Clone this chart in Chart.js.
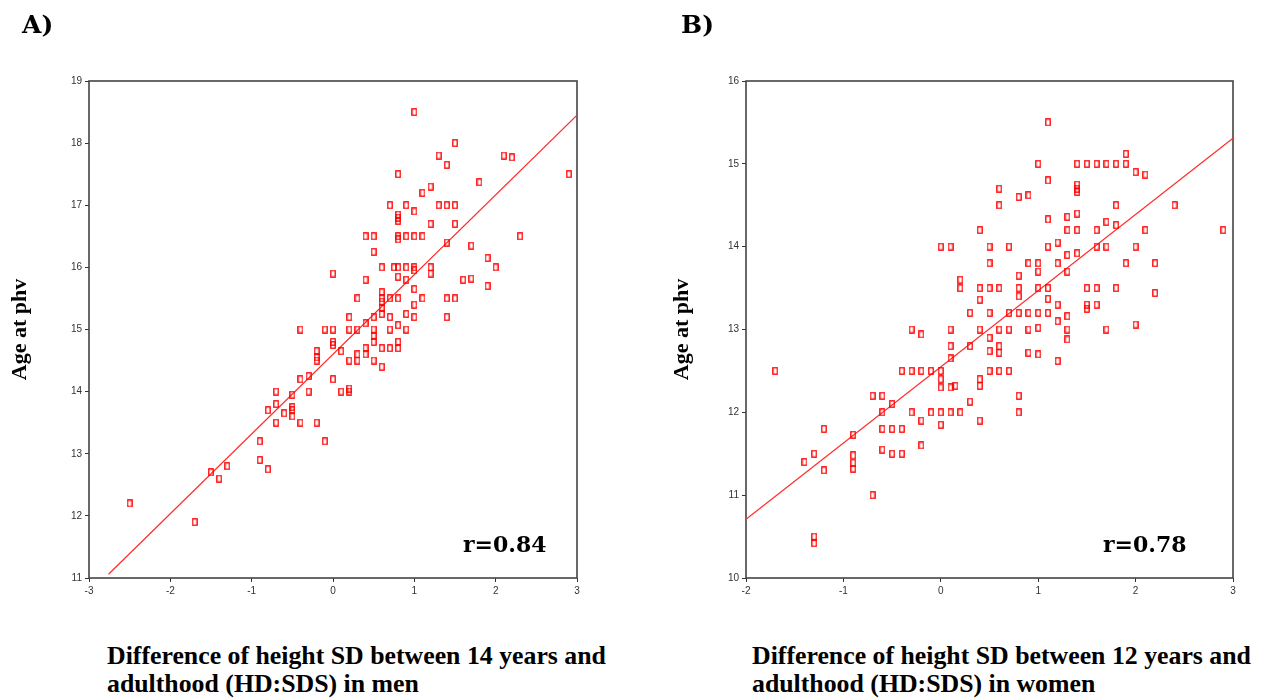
<!DOCTYPE html>
<html><head><meta charset="utf-8">
<script src="https://cdn.jsdelivr.net/npm/chart.js@4.4.0/dist/chart.umd.min.js"></script>
<style>
html,body{margin:0;padding:0;background:#fff;width:1265px;height:699px;overflow:hidden;position:relative}
canvas{position:absolute;top:0}
.lbl{position:absolute;font-family:"DejaVu Serif";font-weight:bold;color:#000;white-space:nowrap;line-height:1}
.xt{position:absolute;font-family:"Liberation Serif";font-weight:bold;font-size:25.8px;line-height:28px;color:#000;white-space:nowrap}
</style></head><body>
<canvas id="cA" width="600" height="620" style="left:0"></canvas>
<canvas id="cB" width="600" height="620" style="left:657px"></canvas>
<div class="lbl" style="left:22px;top:12px;font-size:25px">A)</div>
<div class="lbl" style="left:681px;top:12px;font-size:25px">B)</div>
<div class="lbl" style="left:463px;top:533px;font-size:22px">r=0.84</div>
<div class="lbl" style="left:1103px;top:533px;font-size:22px">r=0.78</div>
<div class="xt" style="left:107px;top:642px">Difference of height SD between 14 years and<br>adulthood (HD:SDS) in men</div>
<div class="xt" style="left:752px;top:642px">Difference of height SD between 12 years and<br>adulthood (HD:SDS) in women</div>
<script>
// Panel A (men)
const menX = [-2.5,-1.7,-1.5,-1.4,-1.3,
  -0.9,-0.9,-0.8,-0.8,-0.7,-0.7,-0.7,-0.6,
  -0.5,-0.5,-0.5,-0.5,-0.4,-0.4,-0.4,-0.3,-0.3,
  -0.2,-0.2,-0.2,-0.2,-0.1,-0.1,
  0,0,0,0,0, 0.1,0.1, 0.2,0.2,0.2,0.2,0.2, 0.3,0.3,0.3,0.3,
  0.4,0.4,0.4,0.4,0.4, 0.5,0.5,0.5,0.5,0.5,0.5,0.5,
  0.6,0.6,0.6,0.6,0.6,0.6,0.6,0.6, 0.7,0.7,0.7,0.7,0.7, 0.75,
  0.8,0.8,0.8,0.8,0.8,0.8,0.8,0.8,0.8,0.8,0.8,0.8,
  0.9,0.9,0.9,0.9,0.9,0.9, 1.0,1.0,1.0,1.0,1.0,1.0,1.0,1.0,
  1.1,1.1,1.1, 1.2,1.2,1.2,1.2, 1.3,1.3, 1.4,1.4,1.4,1.4,1.4,
  1.5,1.5,1.5,1.5, 1.6, 1.7,1.7, 1.8, 1.9,1.9, 2.0, 2.1, 2.2, 2.3, 2.9];
const menY = [12.2,11.9,12.7,12.6,12.8,
  13.2,12.9,13.7,12.75,14.0,13.8,13.5,13.65,
  13.95,13.75,13.7,13.6,15.0,14.2,13.5,14.25,14.0,
  14.65,14.55,14.5,13.5,15.0,13.2,
  15.9,15.0,14.8,14.75,14.2, 14.65,14.0, 15.2,15.0,14.5,14.05,14.0, 15.5,15.0,14.6,14.5,
  16.5,15.8,15.1,14.7,14.6, 16.5,16.25,15.2,15.0,14.9,14.8,14.5,
  16.0,15.6,15.5,15.45,15.35,15.25,14.7,14.4, 17.0,15.5,15.2,15.0,14.7, 16.0,
  17.5,16.85,16.8,16.75,16.5,16.45,16.0,15.85,15.5,15.07,14.8,14.7,
  17.0,16.5,16.0,15.8,15.25,15.0, 18.5,16.9,16.5,16.0,15.95,15.65,15.4,15.2,
  17.2,16.5,15.5, 17.3,16.7,16.0,15.9, 17.8,17.0, 17.65,17.0,16.4,15.5,15.2,
  18.0,17.0,16.7,15.5, 15.8, 16.35,15.82, 17.37, 16.15,15.7, 16.0, 17.8, 17.77, 16.5, 17.5];
const fitMenX = [-2.76, 3.0];
const fitMenY = [11.06, 18.45];
const menXTicks = [-3,-2,-1,0,1,2,3];
const menYTicks = [11,12,13,14,15,16,17,18,19];

// Panel B (women)
const womenX = [-1.7,-1.4,-1.3,-1.3,-1.3,-1.2,-1.2,
  -0.9,-0.9,-0.9,-0.9,-0.7,-0.7,-0.6,-0.6,-0.6,-0.6,
  -0.5,-0.5,-0.5,-0.4,-0.4,-0.4,-0.3,-0.3,-0.3,
  -0.2,-0.2,-0.2,-0.2,-0.1,-0.1,
  0,0,0,0,0,0, 0.1,0.1,0.1,0.1,0.1,0.1, 0.15,
  0.2,0.2,0.2, 0.3,0.3,0.3, 0.4,0.4,0.4,0.4,0.4,0.4,0.4,
  0.5,0.5,0.5,0.5,0.5,0.5,0.5, 0.6,0.6,0.6,0.6,0.6,0.6,0.6,
  0.7,0.7,0.7,0.7, 0.8,0.8,0.8,0.8,0.8,0.8,0.8,
  0.9,0.9,0.9,0.9,0.9, 1.0,1.0,1.0,1.0,1.0,1.0,1.0,
  1.1,1.1,1.1,1.1,1.1,1.1,1.1, 1.2,1.2,1.2,1.2,1.2,
  1.3,1.3,1.3,1.3,1.3,1.3,1.3, 1.4,1.4,1.4,1.4,1.4,1.4,1.4,
  1.5,1.5,1.5,1.5, 1.6,1.6,1.6,1.6,1.6, 1.7,1.7,1.7,1.7,
  1.8,1.8,1.8,1.8, 1.9,1.9,1.9, 2.0,2.0,2.0, 2.1,2.1, 2.2,2.2, 2.4, 2.9];
const womenY = [12.5,11.4,11.5,10.5,10.42,11.8,11.3,
  11.73,11.48,11.39,11.32,12.2,11.0,12.2,12.0,11.8,11.55,
  12.1,11.8,11.5,12.5,11.8,11.5,13.0,12.5,12.0,
  12.94,12.5,11.9,11.6,12.5,12.0,
  14.0,12.5,12.4,12.3,12.0,11.85, 14.0,13.0,12.8,12.65,12.3,12.0, 12.32,
  13.6,13.5,12.0, 13.2,12.8,12.13, 14.2,13.5,13.36,13.0,12.4,12.32,11.9,
  14.0,13.8,13.5,13.2,12.9,12.74,12.5, 14.7,14.5,13.5,13.0,12.8,12.72,12.5,
  14.0,13.2,13.0,12.5, 14.6,13.65,13.5,13.4,13.2,12.2,12.0,
  14.62,13.8,13.2,13.0,12.72, 15.0,13.8,13.7,13.5,13.2,13.02,12.7,
  15.5,14.8,14.33,14.0,13.5,13.37,13.2, 14.05,13.8,13.3,13.1,12.62,
  14.36,14.2,13.9,13.7,13.16,13.0,12.88, 15.0,14.75,14.7,14.66,14.4,14.2,13.92,
  15.0,13.5,13.3,13.25, 15.0,14.2,14.0,13.5,13.3, 15.0,14.3,14.0,13.0,
  15.0,14.5,14.26,13.5, 15.12,15.0,13.8, 14.9,14.0,13.06, 14.87,14.2, 13.8,13.44, 14.5, 14.2];
const fitWomenX = [-2.0, 3.0];
const fitWomenY = [10.71, 15.31];
const womenXTicks = [-2,-1,0,1,2,3];
const womenYTicks = [10,11,12,13,14,15,16];

function marker(){
  const c=document.createElement('canvas'); c.width=6; c.height=8;
  const g=c.getContext('2d'); g.strokeStyle='#ff0000'; g.lineWidth=1.3;
  g.strokeRect(0.8,0.8,4.4,6.4); return c;
}
const framePlugin={id:'frame',beforeDatasetsDraw(chart){
  const {ctx,chartArea:a}=chart; ctx.save(); ctx.strokeStyle='#444'; ctx.lineWidth=1.6;
  ctx.strokeRect(a.left,a.top,a.right-a.left,a.bottom-a.top); ctx.restore();}};

function build(id, xs, ys, fx, fy, xTicks, yTicks, titlePad, padRight){
  const pts = xs.map((x,i)=>({x:x, y:ys[i]}));
  const fit = fx.map((x,i)=>({x:x, y:fy[i]}));
  const tickFont = {family:'Liberation Sans', size:10};
  new Chart(document.getElementById(id), {
    type:'scatter',
    data:{datasets:[
      {type:'line', data:fit, borderColor:'#ff2a2a', borderWidth:1.2, pointRadius:0, fill:false, order:2},
      {data:pts, pointStyle:marker(), pointRadius:4, backgroundColor:'rgba(0,0,0,0)', borderColor:'#ff0000', order:1}
    ]},
    options:{
      responsive:false, animation:false, events:[],
      layout:{padding:{top:81,right:padRight,left:0,bottom:0}},
      plugins:{legend:{display:false}, tooltip:{enabled:false}},
      scales:{
        x:{type:'linear', min:xTicks[0], max:xTicks[xTicks.length-1],
          afterBuildTicks:s=>{s.ticks=xTicks.map(v=>({value:v}));},
          afterFit:s=>{s.height=42;},
          grid:{drawOnChartArea:false, drawTicks:true, tickLength:4, color:'#333'},
          border:{display:false},
          ticks:{font:tickFont, color:'#333', padding:3, maxRotation:0, autoSkip:false}},
        y:{type:'linear', min:yTicks[0], max:yTicks[yTicks.length-1],
          afterBuildTicks:s=>{s.ticks=yTicks.map(v=>({value:v}));},
          afterFit:s=>{s.width=89;},
          grid:{drawOnChartArea:false, drawTicks:true, tickLength:4, color:'#333'},
          border:{display:false},
          ticks:{font:tickFont, color:'#333', padding:3, autoSkip:false},
          title:{display:true, text:'Age at phv', color:'#000',
            font:{family:'Liberation Serif', weight:'bold', size:22}, padding:{top:titlePad,bottom:0}}}
      }
    },
    plugins:[framePlugin]
  });
}
build('cA', menX, menY, fitMenX, fitMenY, menXTicks, menYTicks, 7, 23);
build('cB', womenX, womenY, fitWomenX, fitWomenY, womenXTicks, womenYTicks, 12, 24);
</script>
</body></html>
